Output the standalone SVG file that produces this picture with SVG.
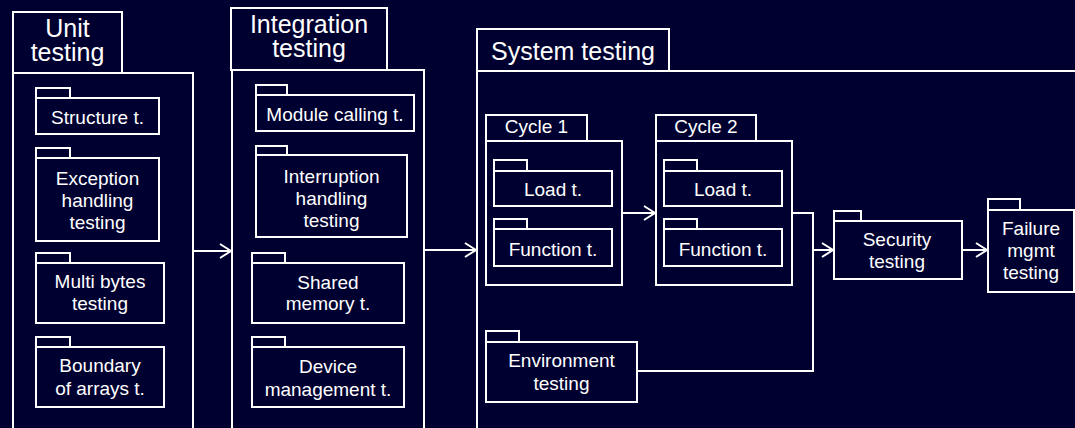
<svg xmlns="http://www.w3.org/2000/svg" width="1075" height="428" viewBox="0 0 1075 428">
<defs>
<style>
.bg{fill:#000030}
.b{fill:#000030;stroke:#fff;stroke-width:2}
.t{font-family:"Liberation Sans",Arial,sans-serif;font-size:19px;fill:#fff;text-anchor:middle}
.h{font-family:"Liberation Sans",Arial,sans-serif;font-size:25px;fill:#fff;text-anchor:middle}
.c{fill:none;stroke:#fff;stroke-width:2}
</style>
<marker id="arr" markerUnits="userSpaceOnUse" markerWidth="14" markerHeight="18" refX="11" refY="7" orient="auto" viewBox="-1 -1 14 16">
<path d="M0,0 L11,7 L0,14" fill="none" stroke="#fff" stroke-width="2"/>
</marker>
</defs>
<rect class="bg" x="0" y="0" width="1075" height="428"/>

<g id="unit">
<rect class="b" x="13" y="12" width="109" height="61"/>
<rect class="b" x="13" y="73" width="180" height="370"/>
<text class="h" x="67.5" y="37">Unit</text>
<text class="h" x="67.5" y="61">testing</text>
</g>
<g id="structure">
<rect class="b" x="36" y="88" width="34" height="10"/>
<rect class="b" x="36" y="98" width="123" height="36"/>
<text class="t" x="97.5" y="124">Structure t.</text>
</g>
<g id="exception">
<rect class="b" x="36" y="148" width="34" height="10"/>
<rect class="b" x="36" y="158" width="123" height="83"/>
<text class="t" x="97.5" y="185">Exception</text>
<text class="t" x="97.5" y="207">handling</text>
<text class="t" x="97.5" y="229">testing</text>
</g>
<g id="multibytes">
<rect class="b" x="36" y="253" width="34" height="10"/>
<rect class="b" x="36" y="263" width="128" height="60"/>
<text class="t" x="100" y="288">Multi bytes</text>
<text class="t" x="100" y="310">testing</text>
</g>
<g id="boundary">
<rect class="b" x="36" y="337" width="34" height="10"/>
<rect class="b" x="36" y="347" width="128" height="60"/>
<text class="t" x="100" y="372">Boundary</text>
<text class="t" x="100" y="395">of arrays t.</text>
</g>

<g id="integration">
<rect class="b" x="231" y="8" width="156" height="62"/>
<rect class="b" x="232" y="70" width="192" height="373"/>
<text class="h" x="309" y="33">Integration</text>
<text class="h" x="309" y="57">testing</text>
</g>
<g id="modulecalling">
<rect class="b" x="256" y="85" width="31" height="10"/>
<rect class="b" x="256" y="95" width="158" height="36"/>
<text class="t" x="335" y="121">Module calling t.</text>
</g>
<g id="interruption">
<rect class="b" x="256" y="146" width="31" height="9"/>
<rect class="b" x="256" y="155" width="151" height="82"/>
<text class="t" x="331.5" y="183">Interruption</text>
<text class="t" x="331.5" y="205">handling</text>
<text class="t" x="331.5" y="227">testing</text>
</g>
<g id="sharedmemory">
<rect class="b" x="252" y="253" width="33" height="10"/>
<rect class="b" x="252" y="263" width="152" height="60"/>
<text class="t" x="328" y="289">Shared</text>
<text class="t" x="328" y="310">memory t.</text>
</g>
<g id="device">
<rect class="b" x="252" y="337" width="33" height="10"/>
<rect class="b" x="252" y="347" width="152" height="60"/>
<text class="t" x="328" y="373">Device</text>
<text class="t" x="328" y="396">management t.</text>
</g>

<g id="system">
<rect class="b" x="477" y="29" width="192" height="42"/>
<rect class="b" x="477" y="71" width="640" height="380"/>
<text class="h" x="573" y="60">System testing</text>
</g>
<g id="cycle1">
<rect class="b" x="486" y="115" width="101" height="26"/>
<rect class="b" x="486" y="141" width="136" height="144"/>
<text class="t" x="536.5" y="133">Cycle 1</text>
</g>
<g id="load1">
<rect class="b" x="494" y="160" width="33" height="11"/>
<rect class="b" x="494" y="171" width="118" height="35"/>
<text class="t" x="553" y="196">Load t.</text>
</g>
<g id="function1">
<rect class="b" x="494" y="219" width="33" height="10"/>
<rect class="b" x="494" y="229" width="118" height="37"/>
<text class="t" x="553" y="256">Function t.</text>
</g>
<g id="cycle2">
<rect class="b" x="656" y="115" width="100" height="26"/>
<rect class="b" x="656" y="141" width="136" height="144"/>
<text class="t" x="706" y="133">Cycle 2</text>
</g>
<g id="load2">
<rect class="b" x="664" y="160" width="33" height="11"/>
<rect class="b" x="664" y="171" width="118" height="35"/>
<text class="t" x="723" y="196">Load t.</text>
</g>
<g id="function2">
<rect class="b" x="664" y="219" width="33" height="10"/>
<rect class="b" x="664" y="229" width="118" height="37"/>
<text class="t" x="723" y="256">Function t.</text>
</g>
<g id="environment">
<rect class="b" x="486" y="331" width="33" height="11"/>
<rect class="b" x="486" y="342" width="151" height="60"/>
<text class="t" x="561.5" y="367">Environment</text>
<text class="t" x="561.5" y="390">testing</text>
</g>
<g id="security">
<rect class="b" x="834" y="211" width="27" height="10"/>
<rect class="b" x="834" y="221" width="128" height="58"/>
<text class="t" x="897" y="246">Security</text>
<text class="t" x="897" y="268">testing</text>
</g>
<g id="failure">
<rect class="b" x="988" y="199" width="32" height="11"/>
<rect class="b" x="988" y="210" width="86" height="82"/>
<text class="t" x="1031" y="235">Failure</text>
<text class="t" x="1031" y="257">mgmt</text>
<text class="t" x="1031" y="279">testing</text>
</g>

<g id="connectors">
<path class="c" d="M193,251 H231" marker-end="url(#arr)"/>
<path class="c" d="M424,250 H476" marker-end="url(#arr)"/>
<path class="c" d="M622,213 H655" marker-end="url(#arr)"/>
<path class="c" d="M792,213 H813 V250 H833" marker-end="url(#arr)"/>
<path class="c" d="M637,371 H813 V250"/>
<path class="c" d="M962,250 H987" marker-end="url(#arr)"/>
</g>
</svg>
